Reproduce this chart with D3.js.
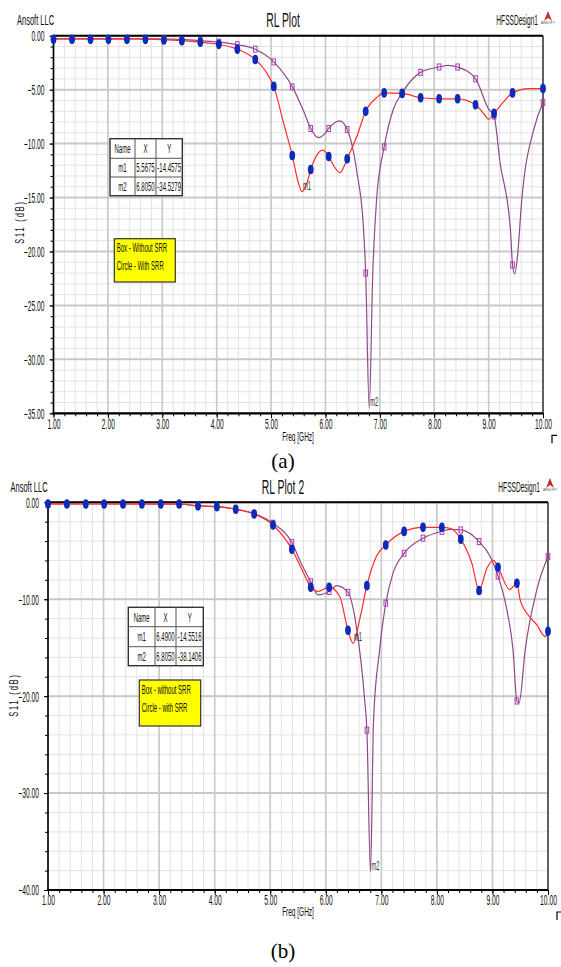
<!DOCTYPE html>
<html>
<head>
<meta charset="utf-8">
<script src="https://cdn.jsdelivr.net/npm/d3@7/dist/d3.min.js"></script>
<style>
  body { margin: 0; background: #fff; }
  text { font-family: "Liberation Sans", Arial, sans-serif; }
</style>
</head>
<body>
<svg id="chart"></svg>
<script>
// ---- data, plot (a) ----
const redFreqA = [1.0, 1.5, 2.0, 2.5, 3.0, 3.36, 3.70, 4.04, 4.38, 4.71, 4.92, 5.05, 5.23, 5.39, 5.50, 5.5675, 5.65, 5.73, 5.85, 5.95, 6.06, 6.17, 6.27, 6.40, 6.58, 6.74, 6.94, 7.08, 7.41, 7.75, 8.09, 8.43, 8.76, 8.92, 9.0, 9.10, 9.30, 9.44, 9.74, 10.0];
const redDbA   = [-0.3, -0.3, -0.3, -0.3, -0.36, -0.46, -0.6, -0.8, -1.25, -2.2, -3.45, -4.7, -8.1, -11.1, -13.6, -14.46, -13.8, -12.4, -11.0, -10.6, -11.2, -12.2, -12.7, -11.4, -9.3, -7.0, -5.75, -5.3, -5.35, -5.75, -5.85, -5.85, -6.4, -7.3, -7.75, -7.2, -6.0, -5.3, -4.9, -4.9];
const purpleFreqA = [1.0, 2.0, 3.0, 3.70, 4.04, 4.38, 4.71, 5.05, 5.39, 5.60, 5.73, 5.87, 6.0, 6.06, 6.26, 6.40, 6.58, 6.70, 6.74, 6.805, 6.87, 6.94, 7.08, 7.25, 7.41, 7.75, 8.09, 8.26, 8.43, 8.76, 9.0, 9.10, 9.21, 9.40, 9.44, 9.48, 9.53, 9.61, 9.83, 10.0];
const purpleDbA   = [-0.3, -0.3, -0.3, -0.45, -0.6, -0.83, -1.25, -2.43, -4.74, -7.0, -8.6, -9.45, -9.0, -8.6, -7.9, -8.7, -12.7, -17.9, -22.0, -34.53, -22.0, -15.2, -10.3, -6.8, -5.3, -3.4, -2.9, -2.75, -2.9, -4.0, -6.8, -7.45, -11.75, -17.9, -21.25, -22.1, -20.5, -15.2, -8.7, -6.2];

// marker frequencies (same in both plots)
const markFreq = [1.0, 1.34, 1.68, 2.01, 2.35, 2.69, 3.03, 3.36, 3.70, 4.04, 4.38, 4.71, 5.05, 5.39, 5.73, 6.06, 6.40, 6.74, 7.08, 7.41, 7.75, 8.09, 8.43, 8.76, 9.10, 9.44, 10.0];
const redMarkA    = [-0.34, -0.34, -0.34, -0.34, -0.34, -0.34, -0.4, -0.46, -0.6, -0.8, -1.25, -2.2, -4.7, -11.1, -12.4, -11.2, -11.4, -7.0, -5.3, -5.35, -5.75, -5.85, -5.85, -6.4, -7.2, -5.3, -4.9];
const purpleMarkA = [-0.3, -0.3, -0.3, -0.3, -0.3, -0.3, -0.3, -0.35, -0.45, -0.6, -0.83, -1.25, -2.43, -4.74, -8.6, -8.6, -8.7, -22.0, -10.3, -5.3, -3.4, -2.9, -2.9, -4.0, -7.45, -21.25, -6.2];

const markNamesA = ["m1", "m2"];
const markXA = [5.5675, 6.8050];
const markYA = [-14.4575, -34.5279];
const noteA = ["Box - Without SRR", "Circle - With SRR"];

// ---- data, plot (b) ----
const redFreqB = [1.0, 3.36, 3.70, 4.04, 4.38, 4.71, 5.05, 5.39, 5.60, 5.73, 5.86, 6.06, 6.25, 6.40, 6.49, 6.61, 6.74, 6.91, 7.08, 7.41, 7.75, 8.09, 8.25, 8.43, 8.63, 8.76, 8.90, 9.02, 9.10, 9.31, 9.44, 9.50, 9.62, 9.80, 9.95, 10.0];
const redDbB   = [-0.17, -0.17, -0.38, -0.45, -0.72, -1.2, -2.34, -4.85, -7.3, -8.76, -9.2, -8.76, -9.7, -13.2, -14.55, -12.1, -8.6, -5.6, -4.4, -3.0, -2.58, -2.58, -2.7, -3.8, -6.3, -9.1, -6.8, -6.0, -6.7, -9.0, -8.35, -10.1, -11.45, -12.65, -13.85, -13.3];
const purpleFreqB = [1.0, 3.36, 3.70, 4.04, 4.38, 4.71, 5.05, 5.39, 5.55, 5.73, 5.86, 6.06, 6.20, 6.40, 6.55, 6.70, 6.74, 6.805, 6.86, 6.97, 7.08, 7.21, 7.41, 7.75, 8.09, 8.25, 8.43, 8.76, 8.96, 9.10, 9.26, 9.37, 9.44, 9.48, 9.59, 9.80, 10.0];
const purpleDbB   = [-0.17, -0.2, -0.35, -0.45, -0.7, -1.15, -2.16, -4.16, -6.2, -8.2, -9.55, -9.2, -8.6, -9.3, -12.8, -20.4, -23.5, -38.14, -22.4, -15.2, -10.4, -7.3, -5.26, -3.7, -3.0, -2.8, -2.85, -4.05, -5.6, -7.6, -11.1, -15.2, -20.5, -20.7, -15.2, -9.0, -5.6];

const redMarkB    = [-0.17, -0.17, -0.17, -0.17, -0.17, -0.17, -0.17, -0.17, -0.38, -0.45, -0.72, -1.2, -2.34, -4.85, -8.76, -8.76, -13.2, -8.6, -4.4, -3.0, -2.58, -2.58, -3.8, -9.1, -6.7, -8.35, -13.3];
const purpleMarkB = [-0.17, -0.17, -0.17, -0.17, -0.17, -0.17, -0.17, -0.2, -0.35, -0.45, -0.7, -1.15, -2.16, -4.16, -8.2, -9.2, -9.3, -23.5, -10.4, -5.26, -3.7, -3.0, -2.85, -4.05, -7.6, -20.5, -5.6];

const markNamesB = ["m1", "m2"];
const markXB = [6.4900, 6.8050];
const markYB = [-14.5516, -38.1406];
const noteB = ["Box - without SRR", "Circle - with SRR"];

const W = 561, H = 967;
const SX = 0.48;   // the HFSS fonts are very condensed

const svg = d3.select("#chart").attr("width", W).attr("height", H);
svg.append("rect").attr("width", W).attr("height", H).attr("fill", "#fff");

function narrow(g, str, x, y, size, anchor, sx) {
  return g.append("text")
    .attr("transform", `translate(${x},${y}) scale(${sx || SX},1)`)
    .attr("text-anchor", anchor || "start")
    .attr("font-size", size)
    .attr("fill", "#111")
    .text(str);
}

function logo(g, x, y) {
  g.append("path").attr("d", `M${x},${y + 10} L${x + 4},${y} L${x + 8},${y + 10} L${x + 4},${y + 7} Z`)
    .attr("fill", "#c03030");
  g.append("text").attr("x", x + 4).attr("y", y + 13).attr("text-anchor", "middle")
    .attr("font-size", 3.5).attr("fill", "#555").text("ANSOFT");
}

function drawPanel(p) {
  const g = svg.append("g");
  const x = d3.scaleLinear().domain([1, 10]).range([p.left, p.right]);
  const y = d3.scaleLinear().domain([p.yMin, 0]).range([p.bottom, p.top]);

  const xMinor = d3.range(0, 46).map(i => 1 + i * 0.2);
  const xMajor = d3.range(1, 11);
  const yMinor = d3.range(0, -p.yMin / p.yMinorStep + 1).map(i => -i * p.yMinorStep);
  const yMajor = d3.range(0, -p.yMin / p.yMajorStep + 1).map(i => -i * p.yMajorStep);

  // grid
  const grid = g.append("g");
  grid.selectAll(".vmin").data(xMinor).join("line")
    .attr("x1", d => x(d)).attr("x2", d => x(d)).attr("y1", p.top).attr("y2", p.bottom)
    .attr("stroke", "#e3e3e3").attr("stroke-width", 1);
  grid.selectAll(".hmin").data(yMinor).join("line")
    .attr("x1", p.left).attr("x2", p.right).attr("y1", d => y(d)).attr("y2", d => y(d))
    .attr("stroke", "#e3e3e3").attr("stroke-width", 1);
  grid.selectAll(".vmaj").data(xMajor).join("line")
    .attr("x1", d => x(d)).attr("x2", d => x(d)).attr("y1", p.top).attr("y2", p.bottom)
    .attr("stroke", "#c9c9c9").attr("stroke-width", 1.6);
  grid.selectAll(".hmaj").data(yMajor).join("line")
    .attr("x1", p.left).attr("x2", p.right).attr("y1", d => y(d)).attr("y2", d => y(d))
    .attr("stroke", "#c9c9c9").attr("stroke-width", 2);

  // axes
  const fmt = d3.format(".2f");
  const xa = g.append("g").attr("transform", `translate(0,${p.bottom})`);
  xa.call(d3.axisBottom(x).tickValues(xMinor).tickSize(3).tickSizeOuter(0).tickFormat(""));
  const xb = g.append("g").attr("transform", `translate(0,${p.bottom})`);
  xb.call(d3.axisBottom(x).tickValues(xMajor).tickSize(5).tickSizeOuter(0).tickFormat(fmt));
  xb.selectAll("text").attr("y", 0).attr("dy", null)
    .attr("transform", `translate(0,${p.xLabelY}) scale(${SX},1)`)
    .attr("font-size", 14).attr("fill", "#111").attr("font-family", null);

  const ya = g.append("g").attr("transform", `translate(${p.left},0)`);
  ya.call(d3.axisLeft(y).tickValues(yMinor).tickSize(3).tickSizeOuter(0).tickFormat(""));
  const yb = g.append("g").attr("transform", `translate(${p.left},0)`);
  yb.call(d3.axisLeft(y).tickValues(yMajor).tickSize(4).tickSizeOuter(0).tickFormat(fmt));
  yb.selectAll("text").attr("x", 0).attr("dy", "0.35em")
    .attr("transform", `translate(-9,0) scale(${SX},1)`)
    .attr("font-size", 14).attr("fill", "#111").attr("font-family", null);
  g.selectAll(".domain").remove();
  g.selectAll(".tick line").attr("stroke", "#000");

  // frame
  g.append("line").attr("x1", p.left).attr("x2", p.right).attr("y1", p.top).attr("y2", p.top)
    .attr("stroke", "#000").attr("stroke-width", 2);
  g.append("line").attr("x1", p.right).attr("x2", p.right).attr("y1", p.top).attr("y2", p.bottom)
    .attr("stroke", "#222").attr("stroke-width", 1.3);
  g.append("line").attr("x1", p.left).attr("x2", p.left).attr("y1", p.top).attr("y2", p.bottom)
    .attr("stroke", "#000").attr("stroke-width", 1.6);
  g.append("line").attr("x1", p.left - 1).attr("x2", p.right).attr("y1", p.bottom).attr("y2", p.bottom)
    .attr("stroke", "#000").attr("stroke-width", 2.2);

  // curves
  const line = d3.line().x(d => x(d[0])).y(d => y(d[1])).curve(d3.curveMonotoneX);
  g.append("path").datum(d3.zip(p.purpleF, p.purpleDb)).attr("d", line)
    .attr("fill", "none").attr("stroke", "#8e4a86").attr("stroke-width", 1.2);
  g.append("path").datum(d3.zip(p.redF, p.redDb)).attr("d", line)
    .attr("fill", "none").attr("stroke", "#ff2b2b").attr("stroke-width", 1.2);

  // markers
  g.append("g").selectAll("rect").data(d3.zip(markFreq, p.purpleMark)).join("rect")
    .attr("x", d => x(d[0]) - 1.8).attr("y", d => y(d[1]) - 3)
    .attr("width", 3.6).attr("height", 6)
    .attr("fill", "none").attr("stroke", "#b03cb0").attr("stroke-width", 1);
  g.append("g").selectAll("ellipse").data(d3.zip(markFreq, p.redMark)).join("ellipse")
    .attr("cx", d => x(d[0])).attr("cy", d => y(d[1]))
    .attr("rx", 2.9).attr("ry", 4.8).attr("fill", "#0b2bb8");

  // marker labels
  p.names.forEach((n, i) => {
    narrow(g, n, x(p.mx[i]) + 1, y(p.my[i]) - 2, 12, "start").attr("fill", "#333");
  });

  // marker table
  const t = p.table;
  const tg = g.append("g");
  const tw = d3.sum(t.cols), th = d3.sum(t.rows);
  tg.append("rect").attr("x", t.x).attr("y", t.y).attr("width", tw).attr("height", th)
    .attr("fill", "#fff").attr("stroke", "#333").attr("stroke-width", 1.4);
  const cx = d3.cumsum([0].concat(t.cols)), cy = d3.cumsum([0].concat(t.rows));
  cx.slice(1, -1).forEach(c => tg.append("line").attr("x1", t.x + c).attr("x2", t.x + c)
    .attr("y1", t.y).attr("y2", t.y + th).attr("stroke", "#555"));
  cy.slice(1, -1).forEach(r => tg.append("line").attr("x1", t.x).attr("x2", t.x + tw)
    .attr("y1", t.y + r).attr("y2", t.y + r).attr("stroke", "#555"));
  const rowsTxt = [["Name", "X", "Y"]].concat(p.names.map((n, i) => [n, p.mx[i].toFixed(4), p.my[i].toFixed(4)]));
  rowsTxt.forEach((row, ri) => row.forEach((s, ci) => {
    narrow(tg, s, t.x + (cx[ci] + cx[ci + 1]) / 2, t.y + (cy[ri] + cy[ri + 1]) / 2 + 4.5, 12.5, "middle");
  }));

  // note box
  const nb = p.note;
  g.append("rect").attr("x", nb.x).attr("y", nb.y).attr("width", nb.w).attr("height", nb.h)
    .attr("fill", "#ffff00").attr("stroke", "#333").attr("stroke-width", 1.2);
  p.noteText.forEach((s, i) => narrow(g, s, nb.x + 2.5, nb.y + 13.5 + i * 18, 12, "start", 0.5));

  // titles
  narrow(g, "Ansoft LLC", p.left - 36.5 + p.ansoftDx, p.titleY, 15, "start", 0.5);
  narrow(g, p.title, 283, p.titleY + 2, 20, "middle", 0.52);
  narrow(g, "HFSSDesign1", p.right - 5 + p.hfssDx, p.titleY, 14, "end", 0.47);
  logo(g, p.right + 1 + p.hfssDx, p.titleY - 14);

  // axis titles
  narrow(g, "Freq [GHz]", 298, p.bottom + p.freqDy, 13, "middle", 0.5);
  g.append("text")
    .attr("transform", `translate(${p.yTitleX},${p.yTitleY}) rotate(-90) scale(0.62,1)`)
    .attr("text-anchor", "middle").attr("font-size", 12).attr("fill", "#111")
    .attr("letter-spacing", 3).text("S11 (dB)");

  // corner mark
  g.append("path").attr("d", `M${p.right + 9},${p.bottom + 30} V${p.bottom + 22} H${p.right + 14}`)
    .attr("fill", "none").attr("stroke", "#000").attr("stroke-width", 1.2);

  // caption (serif, set via style so it beats the css rule)
  g.append("text").attr("x", 283).attr("y", p.captionY).attr("text-anchor", "middle")
    .style("font-family", "'Liberation Serif', 'Times New Roman', serif").attr("font-size", 21)
    .attr("fill", "#000").text(p.caption);
}

drawPanel({
  left: 53.5, right: 543, top: 35.7, bottom: 413.3,
  yMin: -35, yMajorStep: 5, yMinorStep: 1,
  xLabelY: 16, freqDy: 28, yTitleX: 24, yTitleY: 222,
  redF: redFreqA, redDb: redDbA, purpleF: purpleFreqA, purpleDb: purpleDbA,
  redMark: redMarkA, purpleMark: purpleMarkA,
  names: markNamesA, mx: markXA, my: markYA,
  table: { x: 110, y: 138.7, cols: [25, 21, 26.3], rows: [19.6, 18.7, 18.7] },
  note: { x: 114.3, y: 238.7, w: 61, h: 43.3 }, noteText: noteA,
  title: "RL Plot", titleY: 25, ansoftDx: 0, hfssDx: 0,
  caption: "(a)", captionY: 468
});

drawPanel({
  left: 48, right: 548, top: 502.3, bottom: 890,
  yMin: -40, yMajorStep: 10, yMinorStep: 2,
  xLabelY: 15, freqDy: 26, yTitleX: 18, yTitleY: 695,
  redF: redFreqB, redDb: redDbB, purpleF: purpleFreqB, purpleDb: purpleDbB,
  redMark: redMarkB, purpleMark: purpleMarkB,
  names: markNamesB, mx: markXB, my: markYB,
  table: { x: 128.3, y: 607.3, cols: [26.7, 21, 27.3], rows: [19.4, 20, 19] },
  note: { x: 139.3, y: 680, w: 61.4, h: 46 }, noteText: noteB,
  title: "RL Plot 2", titleY: 492, ansoftDx: -1, hfssDx: -3,
  caption: "(b)", captionY: 958
});
</script>
</body>
</html>
